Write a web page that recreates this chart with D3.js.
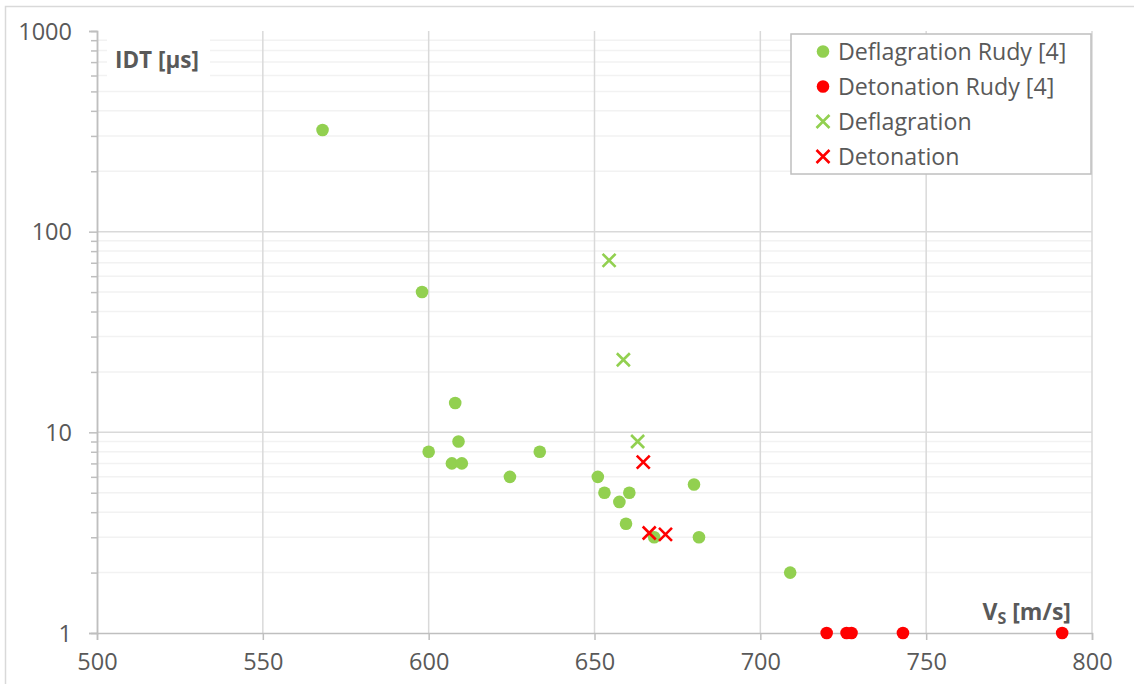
<!DOCTYPE html>
<html>
<head>
<meta charset="utf-8">
<script src="https://cdn.jsdelivr.net/npm/d3@7"></script>
<style>
  body { margin: 0; background: #fff; }
  svg { display: block; }
  text { font-family: "Open Sans", "Noto Sans", sans-serif; fill: #595959; }
</style>
</head>
<body>
<svg id="canvas"></svg>
<script>
// data: shock speed [m/s] vs ignition delay time [µs]
const deflRudyVs = [568, 598, 608, 609, 600, 607, 610, 624.5, 633.5, 651, 653, 657.5, 660.5, 659.5, 668, 680, 681.5, 709];
const deflRudyIdt = [321, 50, 14, 9, 8, 7, 7, 6, 8, 6, 5, 4.5, 5, 3.5, 3, 5.5, 3, 2];
const detRudyVs = [720, 726, 727.5, 743, 791];
const detRudyIdt = [1, 1, 1, 1, 1];
const deflVs = [654.4, 658.7, 663];
const deflIdt = [72, 23, 9];
const detVs = [664.7, 666.5, 671.4];
const detIdt = [7.1, 3.15, 3.1];

const xTicks = [500, 550, 600, 650, 700, 750, 800];
const yTicks = [1, 10, 100, 1000];
const legendLabels = ['Deflagration Rudy [4]', 'Detonation Rudy [4]', 'Deflagration', 'Detonation'];

const green = '#92d050';
const red = '#ff0000';

const w = 1134;
const h = 684;
const svg = d3.select('#canvas').attr('width', w).attr('height', h);

// chart frame
svg.append('path')
  .attr('d', 'M5.5,' + h + ' V6.5 H' + w)
  .attr('fill', 'none')
  .attr('stroke', '#d9d9d9')
  .attr('stroke-width', 1.5);

const x = d3.scaleLinear().domain([500, 800]).range([97, 1092]);
const y = d3.scaleLog().domain([1, 1000]).range([633, 31]);

// minor grid values 2..9 per decade
let minor = [];
for (let d = 1; d < 1000; d *= 10) {
  for (let k = 2; k <= 9; k++) minor.push(d * k);
}

svg.append('g').selectAll('line').data(minor).enter().append('line')
  .attr('x1', x(500)).attr('x2', x(800))
  .attr('y1', (d) => y(d)).attr('y2', (d) => y(d))
  .attr('stroke', '#f2f2f2').attr('stroke-width', 1.5);

svg.append('g').selectAll('line').data([10, 100]).enter().append('line')
  .attr('x1', x(500)).attr('x2', x(800))
  .attr('y1', (d) => y(d)).attr('y2', (d) => y(d))
  .attr('stroke', '#d9d9d9').attr('stroke-width', 1.5);

svg.append('g').selectAll('line').data(xTicks.slice(1)).enter().append('line')
  .attr('x1', (d) => x(d)).attr('x2', (d) => x(d))
  .attr('y1', y(1)).attr('y2', y(1000))
  .attr('stroke', '#d9d9d9').attr('stroke-width', 1.5);

// axes
const xAxis = d3.axisBottom(x).tickValues(xTicks).tickSize(7).tickPadding(13).tickFormat(d3.format('d'));
const gx = svg.append('g').attr('transform', 'translate(0,' + y(1) + ')').call(xAxis);

const yAxis = d3.axisLeft(y).tickValues(yTicks).tickSize(8).tickPadding(17).tickFormat(d3.format('d'));
const gy = svg.append('g').attr('transform', 'translate(' + x(500) + ',0)').call(yAxis);

const yMinorAxis = d3.axisLeft(y).tickValues(minor).tickSize(6).tickFormat('');
const gym = svg.append('g').attr('transform', 'translate(' + x(500) + ',0)').call(yMinorAxis);

[gx, gy, gym].forEach((g) => {
  g.selectAll('.domain').attr('stroke', '#bfbfbf').attr('stroke-width', 1.5);
  g.selectAll('.tick line').attr('stroke', '#bfbfbf').attr('stroke-width', 1.5);
  g.selectAll('.tick text').attr('font-size', 23.5).attr('fill', '#595959')
    .style('font-family', '"Open Sans", sans-serif');
});
gy.selectAll('.tick text').attr('dy', '0.35em');

// axis titles with white boxes
svg.append('rect').attr('x', 107).attr('y', 38).attr('width', 103).attr('height', 42).attr('fill', '#fff');
svg.append('text').attr('x', 115).attr('y', 68).attr('font-size', 22.5).attr('font-weight', 'bold').text('IDT [µs]');

const vs = svg.append('text').attr('x', 1071).attr('y', 620).attr('text-anchor', 'end')
  .attr('font-size', 23).attr('font-weight', 'bold');
vs.append('tspan').text('V');
vs.append('tspan').attr('font-size', 16).attr('dy', 4).text('S');
vs.append('tspan').attr('dy', -4).text(' [m/s]');

// markers
function cross(g, xs, ys, color) {
  const s = 6.5;
  g.selectAll('path').data(xs).enter().append('path')
    .attr('d', (d, i) => {
      const cx = x(d), cy = y(ys[i]);
      return 'M' + (cx - s) + ',' + (cy - s) + 'L' + (cx + s) + ',' + (cy + s) +
             'M' + (cx - s) + ',' + (cy + s) + 'L' + (cx + s) + ',' + (cy - s);
    })
    .attr('stroke', color).attr('stroke-width', 2.6).attr('fill', 'none');
}

svg.append('g').selectAll('circle').data(deflRudyVs).enter().append('circle')
  .attr('cx', (d) => x(d)).attr('cy', (d, i) => y(deflRudyIdt[i])).attr('r', 6.3).attr('fill', green);
svg.append('g').selectAll('circle').data(detRudyVs).enter().append('circle')
  .attr('cx', (d) => x(d)).attr('cy', (d, i) => y(detRudyIdt[i])).attr('r', 6.3).attr('fill', red);
cross(svg.append('g'), deflVs, deflIdt, green);
cross(svg.append('g'), detVs, detIdt, red);

// legend
const lg = svg.append('g');
lg.append('rect').attr('x', 791).attr('y', 34).attr('width', 300).attr('height', 140)
  .attr('fill', '#fff').attr('stroke', '#bfbfbf').attr('stroke-width', 1.5);
const rows = lg.selectAll('g').data(legendLabels).enter().append('g')
  .attr('transform', (d, i) => 'translate(823,' + (51.5 + i * 35) + ')');
rows.append('text').attr('x', 15).attr('dy', '0.35em').attr('font-size', 23.2).text((d) => d);
rows.filter((d, i) => i < 2).append('circle').attr('r', 6.3).attr('fill', (d, i) => (i === 0 ? green : red));
rows.filter((d, i) => i >= 2).append('path')
  .attr('d', 'M-6.5,-6.5L6.5,6.5M-6.5,6.5L6.5,-6.5')
  .attr('stroke', (d, i) => (i === 0 ? green : red)).attr('stroke-width', 2.6);
</script>
</body>
</html>
